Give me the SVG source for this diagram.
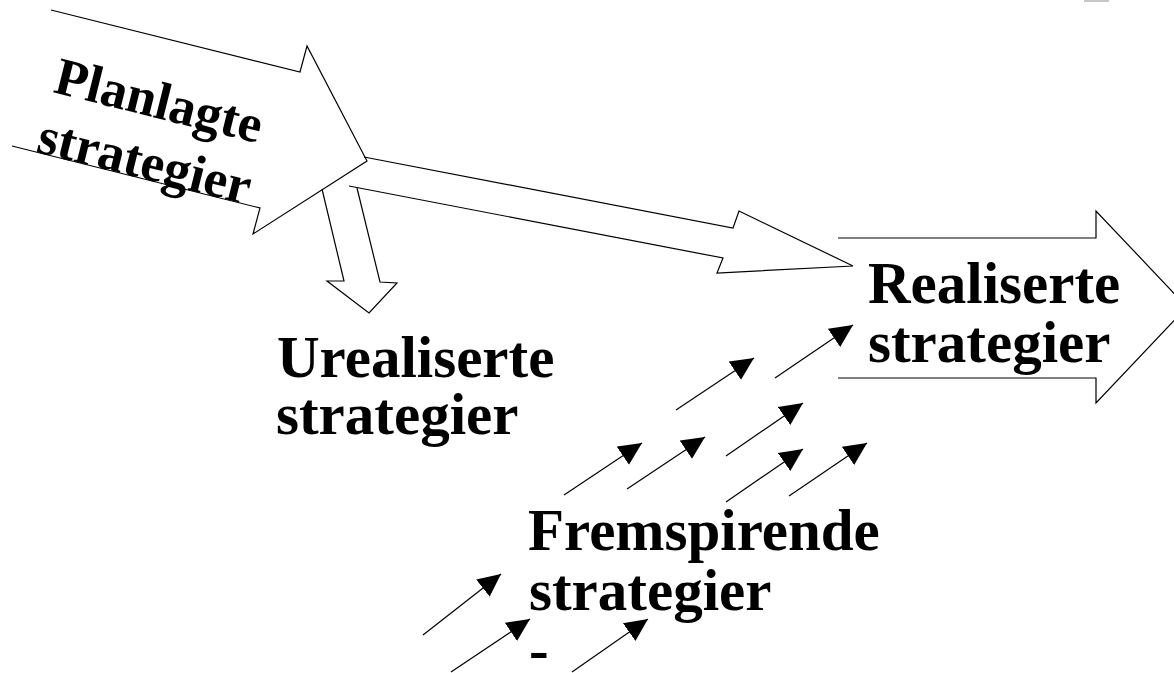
<svg xmlns="http://www.w3.org/2000/svg" width="1174" height="673" viewBox="0 0 1174 673">
  <style>
    .shape { fill: none; stroke: #000; stroke-width: 1.2; stroke-linejoin: miter; }
    .lbl { font-family: "Liberation Serif", "Times New Roman", serif; font-weight: bold; font-size: 59px; fill: #000; }
    .lbl-rot { font-family: "Liberation Serif", "Times New Roman", serif; font-weight: bold; font-size: 53px; fill: #000; }
    .small { stroke: #000; stroke-width: 1.2; marker-end: url(#head); }
  </style>
  <defs>
    <marker id="head" markerUnits="userSpaceOnUse" markerWidth="24" markerHeight="24" viewBox="0 -11 23 22" refX="22" refY="0" orient="auto">
      <path d="M0,-10.5 L22,0 L0,10.5 Z" fill="#000"/>
    </marker>
  </defs>
  <rect x="1084" y="0" width="25" height="2" fill="#c8c8c8"/>

  <g id="connectors">
    <g id="arrow-to-realised">
      <polyline class="shape" points="364,157 733,228 739,211 853,266 717,273 723,258 349,186"/>
    </g>
    <g id="arrow-to-unrealised">
      <polyline class="shape" points="322,189 344,281 327,281 369,313 397,283 380,282 357,188"/>
    </g>
    <g id="emergent-arrows">
      <line class="small" x1="676" y1="410" x2="754" y2="358"/>
      <line class="small" x1="775" y1="378" x2="853" y2="325"/>
      <line class="small" x1="726" y1="456" x2="803" y2="403"/>
      <line class="small" x1="564" y1="495" x2="642" y2="443"/>
      <line class="small" x1="627" y1="489" x2="705" y2="437"/>
      <line class="small" x1="726" y1="502" x2="803" y2="449"/>
      <line class="small" x1="789" y1="496" x2="867" y2="443"/>
      <line class="small" x1="423" y1="635" x2="501" y2="574"/>
      <line class="small" x1="451" y1="672" x2="530" y2="619"/>
      <line class="small" x1="572" y1="672" x2="648" y2="619"/>
    </g>
  </g>

  <g id="planned">
    <polyline class="shape" points="51,10 300,72 307,46 367,161 253,234 260,208 12,146"/>
    <g transform="translate(52,92) rotate(14)">
      <text class="lbl-rot" x="0" y="0">Planlagte</text>
      <text class="lbl-rot" x="-2" y="62">strategier</text>
    </g>
  </g>

  <g id="realised">
    <polyline class="shape" points="838,238 1096,238 1096,211 1187,307 1096,403 1096,378 838,378"/>
    <text class="lbl" x="868" y="303">Realiserte</text>
    <text class="lbl" x="868" y="362">strategier</text>
  </g>

  <g id="unrealised">
    <text class="lbl" x="277" y="377">Urealiserte</text>
    <text class="lbl" x="276" y="434">strategier</text>
  </g>

  <g id="emergent">
    <text class="lbl" x="528" y="550">Fremspirende</text>
    <text class="lbl" x="529" y="610">strategier</text>
    <text class="lbl" x="529" y="669">-</text>
  </g>
</svg>
